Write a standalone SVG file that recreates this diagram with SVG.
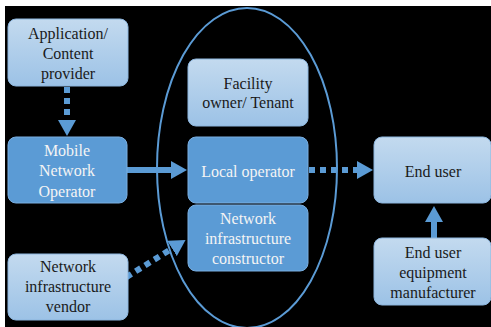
<svg xmlns="http://www.w3.org/2000/svg" width="491" height="327" viewBox="0 0 491 327">
<defs>
<linearGradient id="lg" x1="0" y1="0" x2="0" y2="1">
<stop offset="0" stop-color="#c3daef"/>
<stop offset="1" stop-color="#9cc2e6"/>
</linearGradient>
<marker id="ah" viewBox="0 0 16 18" refX="0" refY="9" markerWidth="16" markerHeight="18" markerUnits="userSpaceOnUse" orient="auto">
<path d="M0,0 L16,9 L0,18 Z" fill="#5b9bd5"/>
</marker>
</defs>
<style>
.light{fill:url(#lg);stroke:#8db6de;stroke-width:1}
.mid{fill:#5b9bd5;stroke:#7aaee0;stroke-width:1}
.t text{font-size:16px;text-anchor:middle}
.dk{fill:#1a1a1a}
.wt{fill:#f4f4f4}
.conn{fill:none;stroke:#5b9bd5;stroke-width:6}
.dot{stroke-dasharray:6 5}
</style>
<rect x="0" y="0" width="491" height="327" fill="#ffffff"/>
<rect x="5" y="6" width="486" height="321" fill="#000000"/>

<g id="connectors">
<ellipse cx="247" cy="168" rx="90" ry="160" fill="none" stroke="#5b9bd5" stroke-width="2"/>
<path class="conn dot" d="M67,87 L67,120" marker-end="url(#ah)"/>
<path class="conn" d="M127,170 L171,170" stroke-width="5" marker-end="url(#ah)"/>
<path class="conn dot" d="M309,170 L357,170" marker-end="url(#ah)"/>
<path class="conn" d="M434,238 L434,222" marker-end="url(#ah)"/>
<path class="conn dot" d="M117,283 L172,248.5" marker-end="url(#ah)"/>
</g>

<g class="t" font-family="'Liberation Serif', 'DejaVu Serif', serif">
<g id="app">
<rect class="light" x="8" y="19" width="120" height="67" rx="8"/>
<text class="dk" x="68" y="39">Application/</text>
<text class="dk" x="68" y="59">Content</text>
<text class="dk" x="68" y="79">provider</text>
</g>
<g id="mno">
<rect class="mid" x="8" y="137" width="119" height="66" rx="8"/>
<text class="wt" x="67" y="156">Mobile</text>
<text class="wt" x="67" y="176">Network</text>
<text class="wt" x="67" y="197">Operator</text>
</g>
<g id="vendor">
<rect class="light" x="8" y="254" width="120" height="66" rx="8"/>
<text class="dk" x="68" y="272">Network</text>
<text class="dk" x="68" y="292">infrastructure</text>
<text class="dk" x="68" y="312">vendor</text>
</g>
<g id="facility">
<rect class="light" x="188" y="59" width="120" height="67" rx="8"/>
<text class="dk" x="248" y="89">Facility</text>
<text class="dk" x="248" y="108">owner/ Tenant</text>
</g>
<g id="local">
<rect class="mid" x="188" y="137" width="120" height="66" rx="8"/>
<text class="wt" x="248" y="177">Local operator</text>
</g>
<g id="constructor">
<rect class="mid" x="188" y="205" width="120" height="66" rx="8"/>
<text class="wt" x="248" y="224">Network</text>
<text class="wt" x="248" y="244">infrastructure</text>
<text class="wt" x="248" y="264">constructor</text>
</g>
<g id="enduser">
<rect class="light" x="374" y="137" width="117" height="66" rx="8"/>
<text class="dk" x="433" y="177">End user</text>
</g>
<g id="euem">
<rect class="light" x="374" y="238" width="117" height="67" rx="8"/>
<text class="dk" x="433" y="258">End user</text>
<text class="dk" x="433" y="278">equipment</text>
<text class="dk" x="433" y="298">manufacturer</text>
</g>
</g>
</svg>
